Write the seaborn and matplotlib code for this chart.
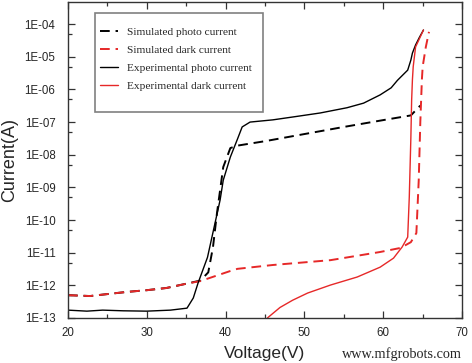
import numpy as np
import pandas as pd
import seaborn as sns
import matplotlib.pyplot as plt
from matplotlib.patches import Rectangle
from matplotlib.ticker import LogLocator, FuncFormatter, MultipleLocator

# simulated photo current
sim_photo_v = [20, 22.8, 25, 27.5, 30, 32.5, 35, 36.8, 37.8, 38.4, 38.9, 39.7, 40.6,
               41.5, 45, 50, 55, 60, 63.5, 64.7]
sim_photo_i = [5.0e-13, 4.7e-13, 5.4e-13, 6.3e-13, 7.1e-13, 8.3e-13, 1.12e-12, 1.4e-12,
               2.5e-12, 1.5e-11, 1.6e-10, 4.2e-9, 1.6e-8,
               1.9e-8, 2.6e-8, 4.3e-8, 7.1e-8, 1.15e-7, 1.6e-7, 3.2e-7]

# simulated dark current
sim_dark_v = [20, 22.8, 25, 27.5, 30, 32.5, 35, 36.8, 38.9, 40.6, 41.5, 46, 53.3,
              59.6, 62.2, 63.5, 64.2, 64.5, 64.7, 64.9, 65.0, 65.4, 65.8]
sim_dark_i = [5.0e-13, 4.7e-13, 5.4e-13, 6.3e-13, 7.1e-13, 8.3e-13, 1.12e-12, 1.35e-12,
              2.0e-12, 2.75e-12, 3.2e-12, 4.2e-12, 5.9e-12,
              1.05e-11, 1.4e-11, 2.1e-11, 4.0e-11, 1.66e-9, 1.0e-7, 2.0e-6, 5.0e-6, 2.0e-5, 5.8e-5]

# experimental photo current
exp_photo_v = [20, 22.4, 24.4, 27, 30, 33, 35.1, 35.9, 36.5, 37.7, 39.3, 39.7, 40.6,
               41.5, 42.1, 43.1, 46, 49.1, 52, 55.4, 57.5, 59.6, 61, 61.8, 62.5,
               63.1, 63.5, 63.7, 64.1, 64.6, 65.1]
exp_photo_i = [1.74e-13, 1.62e-13, 1.74e-13, 1.66e-13, 1.62e-13, 1.74e-13, 2.0e-13, 4.1e-13,
               1.17e-12, 7.2e-12, 4.1e-10, 1.66e-9, 8.5e-9,
               3.0e-8, 7.1e-8, 1.0e-7, 1.17e-7, 1.5e-7, 1.9e-7, 2.75e-7, 3.8e-7, 6.8e-7,
               1.12e-6, 1.9e-6, 2.8e-6, 3.9e-6, 7.9e-6, 1.3e-5, 2.3e-5, 4.0e-5, 6.6e-5]

# experimental dark current
exp_dark_v = [45.3, 46.9, 48.5, 50.4, 53.3, 56.7, 59.6, 61.3, 62.4, 63.1, 63.3, 63.5,
              63.6, 63.7, 63.8, 64.1, 65.1]
exp_dark_i = [1.0e-13, 2.1e-13, 3.5e-13, 5.8e-13, 1.02e-12, 1.8e-12, 3.6e-12, 6.8e-12,
              1.5e-11, 3.0e-11, 5.0e-10, 3.2e-8, 4.7e-7, 2.0e-6, 5.0e-6, 2.0e-5, 6.6e-5]

red = '#e62828'

sns.set_style("ticks")
plt.rcParams['font.family'] = ['Liberation Sans', 'DejaVu Sans']

fig, ax = plt.subplots(figsize=(4.72, 3.63), dpi=100)
fig.subplots_adjust(left=0.144, right=0.979, top=0.994, bottom=0.124)

series = [
    (sim_photo_v, sim_photo_i, 'Simulated photo current', 'black', (0, (5, 3)), 1.4),
    (sim_dark_v, sim_dark_i, 'Simulated dark current', red, (0, (5, 3)), 1.4),
    (exp_photo_v, exp_photo_i, 'Experimental photo current', 'black', '-', 1.0),
    (exp_dark_v, exp_dark_i, 'Experimental dark current', red, '-', 1.0),
]
for v, i, name, col, ls, lw in series:
    d = pd.DataFrame({'Voltage': v, 'Current': i})
    sns.lineplot(data=d, x='Voltage', y='Current', ax=ax, color=col, linestyle=ls,
                 linewidth=lw, label=name, sort=False, estimator=None)

ax.set_yscale('log')
ax.set_xlim(20, 70)
ax.set_ylim(1e-13, 4.7e-4)
ax.xaxis.set_major_locator(MultipleLocator(10))
ax.xaxis.set_minor_locator(MultipleLocator(5))
ax.yaxis.set_major_locator(LogLocator(base=10, numticks=20))
ax.yaxis.set_minor_locator(LogLocator(base=10, subs=[5], numticks=20))
ax.yaxis.set_major_formatter(FuncFormatter(lambda v, p: "1E{:03d}".format(int(round(np.log10(v))))))
ax.tick_params(which='both', direction='in', top=True, right=True, labelsize=8.3,
               color='#333333', width=0.9)
ax.tick_params(which='major', length=5)
ax.tick_params(which='minor', length=3)
ax.tick_params(axis='x', pad=6.5)
ax.tick_params(axis='y', pad=9)
for s in ax.spines.values():
    s.set_linewidth(1.0)
    s.set_color('#333333')

ax.set_xlabel('Voltage(V)', fontsize=12.5, labelpad=5)
ax.set_ylabel('Current(A)', fontsize=13, labelpad=5)

# legend box
ax.add_patch(Rectangle((0.0685, 0.652), 0.4265, 0.313, transform=ax.transAxes,
                       facecolor='white', edgecolor='#808080', linewidth=1.2, zorder=4))
leg = ax.legend(loc='upper left', bbox_to_anchor=(0.081, 0.922), borderaxespad=0,
                prop={'family': 'Liberation Serif', 'size': 8.2}, frameon=False,
                handlelength=1.6, labelspacing=0.72, borderpad=0, handletextpad=0.8)
leg.set_zorder(5)

fig.text(0.979, 0.025, 'www.mfgrobots.com', ha='right', va='center',
         fontsize=10.3, family='Liberation Serif')

fig.savefig('out.png', dpi=100)
